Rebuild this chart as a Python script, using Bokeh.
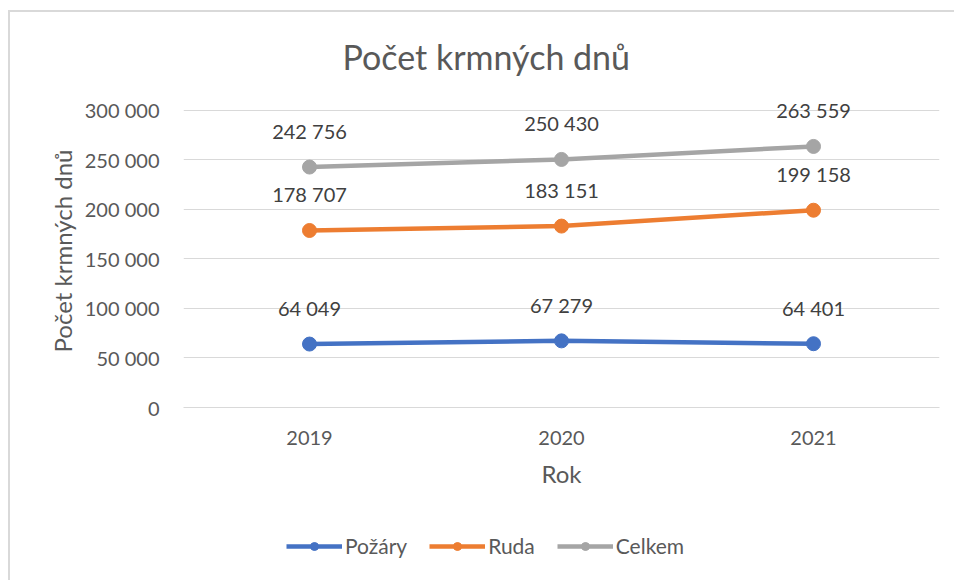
from bokeh.plotting import figure
from bokeh.layouts import column
from bokeh.models import Range1d, FactorRange, FixedTicker, Legend, LegendItem, ColumnDataSource
from bokeh.core.properties import value
from bokeh.embed import file_html
from bokeh.resources import INLINE

years = ["2019", "2020", "2021"]
pozary = [64049, 67279, 64401]
ruda = [178707, 183151, 199158]
celkem = [242756, 250430, 263559]
series_names = ["Požáry", "Ruda", "Celkem"]
colors = ["#4472C4", "#ED7D31", "#A5A5A5"]
y_ticks = [0, 50000, 100000, 150000, 200000, 250000, 300000]

FONT = "Lato"
TXT = "#595959"

def fmt(v):
    return f"{v:,}".replace(",", " ")

p = figure(x_range=FactorRange(*years, range_padding=0), y_range=Range1d(0, 316000),
           frame_width=756, frame_height=313,
           min_border_left=173, min_border_right=15, min_border_top=82, min_border_bottom=100,
           output_backend="svg", toolbar_location=None,
           title="Počet krmných dnů")

p.outline_line_color = None
p.border_fill_color = "white"
p.background_fill_color = "white"

p.title.align = "left"
p.title.offset = 159
p.title.text_font = FONT
p.title.text_font_size = "34px"
p.title.text_font_style = "normal"
p.title.text_color = TXT
p.title.standoff = 35

p.xgrid.grid_line_color = None
p.ygrid.grid_line_color = "#D9D9D9"
p.ygrid.grid_line_width = 1
p.yaxis.ticker = FixedTicker(ticks=y_ticks)
p.yaxis.major_label_overrides = {t: fmt(t) for t in y_ticks}
p.yaxis.axis_line_color = None
p.yaxis.major_tick_line_color = None
p.yaxis.minor_tick_line_color = None
p.yaxis.major_label_standoff = 18
p.yaxis.major_label_text_font = FONT
p.yaxis.major_label_text_font_size = "20px"
p.yaxis.major_label_text_color = TXT
p.yaxis.axis_label = "Počet krmných dnů"
p.yaxis.axis_label_text_font = FONT
p.yaxis.axis_label_text_font_size = "24px"
p.yaxis.axis_label_text_font_style = "normal"
p.yaxis.axis_label_text_color = TXT
p.yaxis.axis_label_standoff = 5

p.xaxis.axis_line_color = "#D9D9D9"
p.xaxis.major_tick_line_color = None
p.xaxis.minor_tick_line_color = None
p.xaxis.major_label_standoff = 17
p.xaxis.major_label_text_font = FONT
p.xaxis.major_label_text_font_size = "20px"
p.xaxis.major_label_text_color = TXT
p.xaxis.axis_label = "Rok"
p.xaxis.axis_label_text_font = FONT
p.xaxis.axis_label_text_font_size = "24px"
p.xaxis.axis_label_text_font_style = "normal"
p.xaxis.axis_label_text_color = TXT
p.xaxis.axis_label_standoff = 11

all_series = [pozary, ruda, celkem]
for name, vals, col in zip(series_names, all_series, colors):
    src = ColumnDataSource(dict(x=years, y=vals, lab=[fmt(v) for v in vals]))
    p.line("x", "y", source=src, line_color=col, line_width=4.5)
    p.scatter("x", "y", source=src, size=14, fill_color=col, line_color=col)
    p.text("x", "y", text="lab", source=src, text_align="center", text_baseline="middle",
           y_offset=-36, text_font=value(FONT), text_font_size="20px", text_color="#404040")

# legend strip below the chart (its renderers' data lie outside its ranges, so only the legend shows)
lg = figure(width=944, height=73, x_range=Range1d(0, 944), y_range=Range1d(0, 73),
            min_border=0, output_backend="svg", toolbar_location=None)
lg.axis.visible = False
lg.grid.grid_line_color = None
lg.outline_line_color = None
lg.border_fill_color = "white"
items = []
for name, vals, col in zip(series_names, all_series, colors):
    lsrc = ColumnDataSource(dict(x=vals, y=vals))
    l = lg.line("x", "y", source=lsrc, line_color=col, line_width=4.5)
    s = lg.scatter("x", "y", source=lsrc, size=14, fill_color=col, line_color=col)
    items.append(LegendItem(label=name, renderers=[l, s]))

legend = Legend(items=items, orientation="horizontal", location=(103, 22),
                label_text_font=FONT, label_text_font_size="21px", label_text_color=TXT,
                glyph_width=56, glyph_height=20, label_standoff=3, spacing=22,
                padding=0, margin=0, border_line_color=None, background_fill_alpha=0)
lg.add_layout(legend, "center")

layout = column(p, lg, spacing=0)
layout.styles = {"margin-left": "8px", "margin-top": "10px",
                 "border-left": "2px solid #D9D9D9", "border-top": "2px solid #D9D9D9"}

open("out.html", "w").write(file_html(layout, INLINE))
